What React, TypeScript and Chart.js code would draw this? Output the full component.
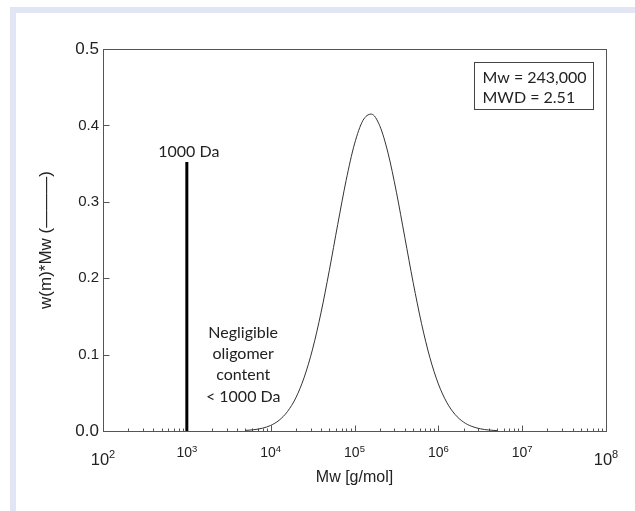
import React, { useEffect, useRef } from 'react';
import { Chart, registerables } from 'chart.js';

Chart.register(...registerables);

// Molar mass (g/mol) sampled along the distribution curve
const massValues = [
  5012, 6310, 7943, 10000, 12589, 15849, 19953, 25119, 31623, 39811, 50119,
  63096, 79433, 100000, 125893, 158489, 199526, 251189, 316228, 398107,
  501187, 630957, 794328, 1000000, 1258925, 1584893, 1995262, 2511886,
  3162278, 3981072, 5011872,
];
// w(m)*Mw
const weightValues = [
  0.0007, 0.0017, 0.0036, 0.0073, 0.014, 0.0254, 0.0434, 0.0703, 0.1072,
  0.1546, 0.2104, 0.2704, 0.328, 0.3757, 0.4063, 0.4148, 0.3998, 0.3638,
  0.3126, 0.2535, 0.1942, 0.1404, 0.0958, 0.0617, 0.0376, 0.0216, 0.0117,
  0.006, 0.0029, 0.0013, 0.0005,
];
// 1000 Da marker line
const markerMass = [1000, 1000];
const markerHeight = [0, 0.352];

const yTickValues = [0, 0.1, 0.2, 0.3, 0.4, 0.5];
const xDecadeExponents = [2, 3, 4, 5, 6, 7, 8];
const largeExponents = [2, 8];

const xAxisTitle = 'Mw [g/mol]';
const yAxisTitle = 'w(m)*Mw (———)';
const infoLines = ['Mw = 243,000', 'MWD = 2.51'];
const markerLabel = '1000 Da';
const noteLines = ['Negligible', 'oligomer', 'content', '< 1000 Da'];

const AXIS_FONT = '"Liberation Sans", Arial, sans-serif';
const NOTE_FONT = 'Lato, "Open Sans", sans-serif';
const TEXT_COLOR = '#222';
const AXIS_COLOR = '#555';

const decorPlugin = {
  id: 'decor',
  beforeDatasetsDraw(chart: any) {
    const { ctx, chartArea: a, scales } = chart;
    const x = scales.x;
    const y = scales.y;
    ctx.save();
    ctx.strokeStyle = AXIS_COLOR;
    ctx.lineWidth = 1;
    const l = Math.round(a.left) + 0.5;
    const t = Math.round(a.top) + 0.5;
    const r = Math.round(a.right) + 0.5;
    const b = Math.round(a.bottom) + 0.5;
    ctx.strokeRect(l, t, r - l, b - t);
    ctx.beginPath();
    // inward x ticks
    for (const e of xDecadeExponents) {
      if (e === 8) continue;
      for (let k = 1; k <= 9; k++) {
        const px = Math.round(x.getPixelForValue(k * Math.pow(10, e))) + 0.5;
        const len = k === 1 ? 6 : 3;
        ctx.moveTo(px, b);
        ctx.lineTo(px, b - len);
      }
    }
    // inward y ticks
    for (const v of yTickValues) {
      const py = Math.round(y.getPixelForValue(v)) + 0.5;
      ctx.moveTo(l, py);
      ctx.lineTo(l + 6, py);
    }
    ctx.stroke();
    ctx.restore();
  },
  afterDraw(chart: any) {
    const { ctx, chartArea: a, scales } = chart;
    const x = scales.x;
    const y = scales.y;
    ctx.save();
    ctx.fillStyle = TEXT_COLOR;
    ctx.textBaseline = 'alphabetic';
    ctx.textAlign = 'left';
    // x decade labels with superscripts
    for (const e of xDecadeExponents) {
      const big = largeExponents.includes(e);
      const baseSize = big ? 16.5 : 14;
      const supSize = big ? 11 : 9.5;
      const baseY = a.bottom + (big ? 34 : 26);
      ctx.font = `${baseSize}px ${AXIS_FONT}`;
      const w1 = ctx.measureText('10').width;
      ctx.font = `${supSize}px ${AXIS_FONT}`;
      const w2 = ctx.measureText(String(e)).width;
      const px = x.getPixelForValue(Math.pow(10, e));
      const sx = px - (w1 + w2) / 2;
      ctx.font = `${baseSize}px ${AXIS_FONT}`;
      ctx.fillText('10', sx, baseY);
      ctx.font = `${supSize}px ${AXIS_FONT}`;
      ctx.fillText(String(e), sx + w1, baseY - (big ? 7 : 5.5));
    }
    // marker label
    ctx.font = `16px ${NOTE_FONT}`;
    ctx.textAlign = 'center';
    ctx.textBaseline = 'middle';
    ctx.fillText(markerLabel, x.getPixelForValue(1000) + 2, y.getPixelForValue(0.352) - 10);
    // note
    const noteX = x.getPixelForValue(4700);
    const noteTop = y.getPixelForValue(0.129);
    noteLines.forEach((s, i) => {
      ctx.fillText(s, noteX, noteTop + i * 21.3);
    });
    // info box
    const bw = 119;
    const bh = 47;
    const bx = Math.round(a.right - 13 - bw) + 0.5;
    const by = Math.round(a.top + 13) + 0.5;
    ctx.strokeStyle = '#444';
    ctx.lineWidth = 1;
    ctx.strokeRect(bx, by, bw, bh);
    ctx.textAlign = 'left';
    infoLines.forEach((s, i) => {
      ctx.fillText(s, bx + 8, by + 15 + i * 20);
    });
    ctx.restore();
  },
};

export default function App() {
  const canvasRef = useRef<HTMLCanvasElement | null>(null);

  useEffect(() => {
    if (!canvasRef.current) return;
    const curve = massValues.map((m, i) => ({ x: m, y: weightValues[i] }));
    const marker = markerMass.map((m, i) => ({ x: m, y: markerHeight[i] }));
    const chart = new Chart(canvasRef.current, {
      type: 'scatter',
      data: {
        datasets: [
          {
            data: curve,
            showLine: true,
            borderColor: '#333',
            borderWidth: 1,
            pointRadius: 0,
            cubicInterpolationMode: 'monotone',
          } as any,
          {
            data: marker,
            showLine: true,
            borderColor: '#000',
            borderWidth: 3,
            pointRadius: 0,
          } as any,
        ],
      },
      options: {
        responsive: false,
        animation: false,
        layout: { padding: { left: 0, top: 49, right: 29, bottom: 0 } },
        plugins: { legend: { display: false }, tooltip: { enabled: false } },
        scales: {
          x: {
            type: 'logarithmic',
            min: 100,
            max: 1e8,
            grid: { display: false, drawTicks: false },
            border: { display: false },
            ticks: { display: false },
            title: {
              display: true,
              text: xAxisTitle,
              color: TEXT_COLOR,
              font: { family: AXIS_FONT, size: 16 },
              padding: { top: 0, bottom: 24 },
            },
            afterFit: (s: any) => {
              s.height = 80;
            },
          },
          y: {
            min: 0,
            max: 0.5,
            grid: { display: false, drawTicks: false },
            border: { display: false },
            ticks: {
              stepSize: 0.1,
              padding: 4,
              color: TEXT_COLOR,
              font: (c: any) => {
                const v = c.tick ? c.tick.value : 0.1;
                const big = Math.abs(v) < 1e-9 || Math.abs(v - 0.5) < 1e-9;
                return { family: AXIS_FONT, size: big ? 17 : 15 };
              },
              callback: (v: any) => Number(v).toFixed(1),
            },
            title: {
              display: true,
              text: yAxisTitle,
              color: TEXT_COLOR,
              font: { family: AXIS_FONT, size: 17 },
              padding: { top: 36, bottom: 0 },
            },
            afterFit: (s: any) => {
              s.width = 103;
            },
          },
        },
      } as any,
      plugins: [decorPlugin],
    });
    return () => chart.destroy();
  }, []);

  return (
    <div
      style={{
        position: 'fixed',
        left: 0,
        top: 0,
        width: 635,
        height: 511,
        background: '#fff',
        overflow: 'hidden',
      }}
    >
      <div style={{ position: 'absolute', left: 10, top: 7, width: 625, height: 6, background: '#e2e5f3' }} />
      <div style={{ position: 'absolute', left: 10, top: 7, width: 6, height: 504, background: '#e2e5f3' }} />
      <canvas
        ref={canvasRef}
        width={635}
        height={511}
        style={{ position: 'absolute', left: 0, top: 0, width: 635, height: 511 }}
      />
    </div>
  );
}
